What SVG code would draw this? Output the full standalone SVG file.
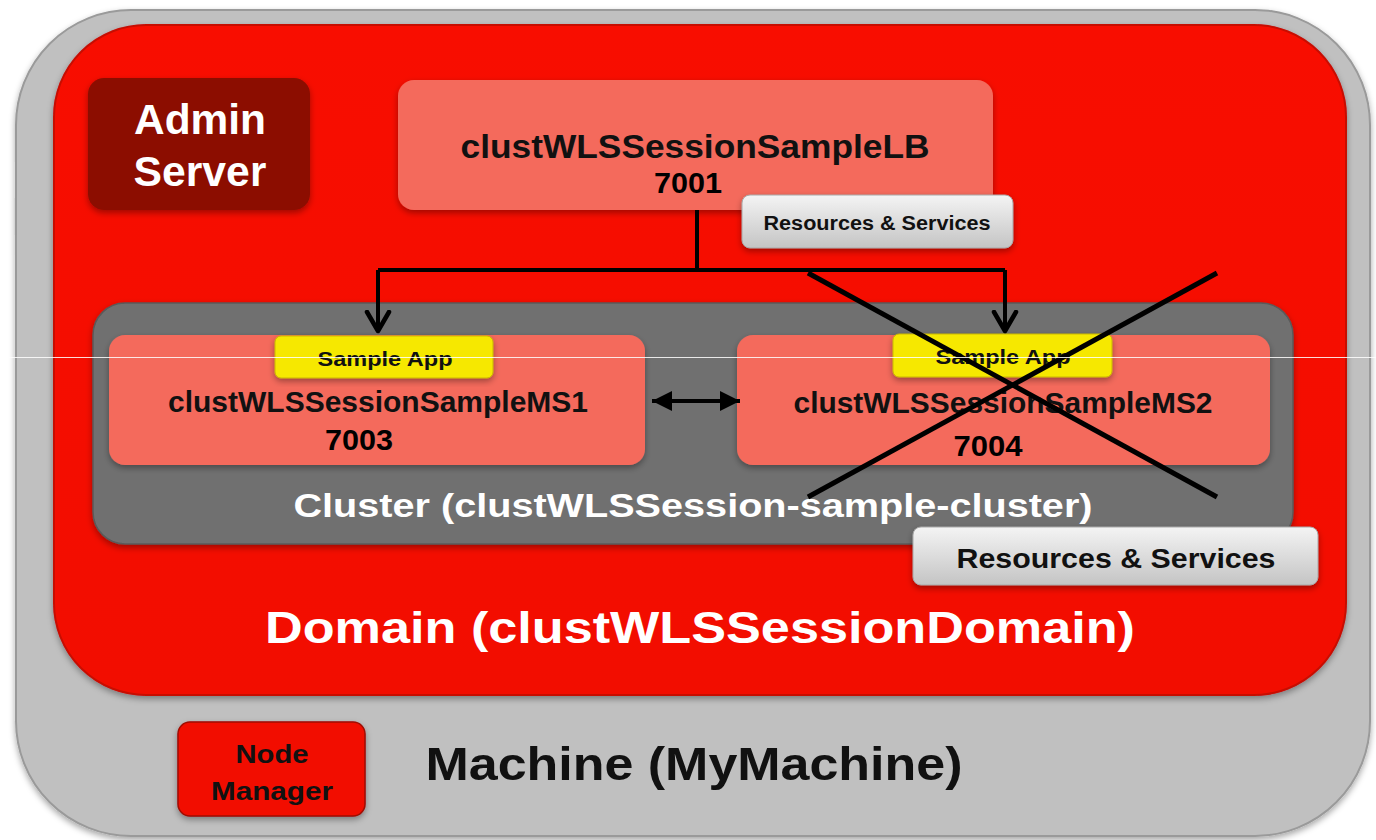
<svg xmlns="http://www.w3.org/2000/svg" width="1376" height="840" viewBox="0 0 1376 840">
<defs>
<style>
.b{font-family:"Liberation Sans",Arial,sans-serif;font-weight:bold}
.w{fill:#ffffff}
.k{fill:#111111}
.salmon{fill:#f46a5c}
.yellow{fill:#f6e800;stroke:#c9b800;stroke-width:1}
.conn{stroke:#000;stroke-width:4;fill:none}
</style>
<linearGradient id="gGray" x1="0" y1="0" x2="0" y2="1">
<stop offset="0" stop-color="#f4f4f4"/><stop offset="1" stop-color="#c4c4c4"/>
</linearGradient>
<linearGradient id="gRed" x1="0" y1="0" x2="0" y2="1">
<stop offset="0" stop-color="#f80c00"/><stop offset="1" stop-color="#f20a00"/>
</linearGradient>
<filter id="sh" x="-10%" y="-10%" width="120%" height="130%">
<feDropShadow dx="0" dy="3" stdDeviation="3" flood-color="#000" flood-opacity="0.35"/>
</filter>
<marker id="open" viewBox="0 0 24 28" refX="21" refY="14" markerWidth="24" markerHeight="28" markerUnits="userSpaceOnUse" orient="auto-start-reverse">
<path d="M2,3 L21,14 L2,25" fill="none" stroke="#000" stroke-width="4.5" stroke-linecap="round" stroke-linejoin="round"/>
</marker>
<marker id="tri" viewBox="0 0 20 22" refX="20" refY="11" markerWidth="20" markerHeight="22" markerUnits="userSpaceOnUse" orient="auto-start-reverse">
<path d="M0,1 L20,11 L0,21 Z" fill="#000"/>
</marker>
</defs>
<rect width="1376" height="840" fill="#ffffff"/>

<g id="machine">
<rect x="16" y="10" width="1354" height="826" rx="115" fill="#c0c0c0" stroke="#9a9a9a" stroke-width="2" filter="url(#sh)"/>
<text class="b k" x="694" y="780" font-size="46" text-anchor="middle" textLength="537" lengthAdjust="spacingAndGlyphs">Machine (MyMachine)</text>
</g>

<g id="domain">
<rect x="54" y="25" width="1292" height="670" rx="92" fill="url(#gRed)" stroke="#c80800" stroke-width="2" filter="url(#sh)"/>
<text class="b w" x="700" y="643" font-size="44" text-anchor="middle" textLength="870" lengthAdjust="spacingAndGlyphs">Domain (clustWLSSessionDomain)</text>
</g>

<g id="node-manager">
<rect x="178" y="722" width="187" height="94" rx="12" fill="#f20c00" stroke="#a00800" stroke-width="1.5" filter="url(#sh)"/>
<text class="b k" x="272" y="763" font-size="25" text-anchor="middle" textLength="73" lengthAdjust="spacingAndGlyphs">Node</text>
<text class="b k" x="272" y="800" font-size="25" text-anchor="middle" textLength="122" lengthAdjust="spacingAndGlyphs">Manager</text>
</g>

<g id="admin-server">
<rect x="88" y="78" width="222" height="132" rx="16" fill="#8c0c00" filter="url(#sh)"/>
<text class="b w" x="200" y="134" font-size="42" text-anchor="middle" textLength="132" lengthAdjust="spacingAndGlyphs">Admin</text>
<text class="b w" x="200" y="186" font-size="42" text-anchor="middle" textLength="133" lengthAdjust="spacingAndGlyphs">Server</text>
</g>

<g id="lb">
<rect x="398" y="80" width="595" height="130" rx="16" class="salmon" filter="url(#sh)"/>
<text class="b k" x="695" y="158" font-size="33" text-anchor="middle" textLength="469" lengthAdjust="spacingAndGlyphs">clustWLSSessionSampleLB</text>
<text class="b" fill="#000" x="688" y="193" font-size="29" text-anchor="middle" textLength="68" lengthAdjust="spacingAndGlyphs">7001</text>
</g>

<g id="lb-resources">
<rect x="742" y="195" width="271" height="53" rx="8" fill="url(#gGray)" stroke="#a8a8a8" stroke-width="1" filter="url(#sh)"/>
<text class="b k" x="877" y="230" font-size="20" text-anchor="middle" textLength="227" lengthAdjust="spacingAndGlyphs">Resources &amp; Services</text>
</g>

<g id="cluster">
<rect x="93" y="303" width="1200" height="241" rx="32" fill="#707070" stroke="#5a5a5a" stroke-width="1.5" filter="url(#sh)"/>
<text class="b w" x="693" y="517" font-size="34" text-anchor="middle" textLength="799" lengthAdjust="spacingAndGlyphs">Cluster (clustWLSSession-sample-cluster)</text>
</g>

<g id="ms1">
<rect x="109" y="335" width="536" height="130" rx="16" class="salmon" filter="url(#sh)"/>
<rect x="275" y="336" width="218" height="42" rx="6" class="yellow" filter="url(#sh)"/>
<text class="b k" x="385" y="366" font-size="20" text-anchor="middle" textLength="135" lengthAdjust="spacingAndGlyphs">Sample App</text>
<text class="b k" x="378" y="412" font-size="30" text-anchor="middle" textLength="420" lengthAdjust="spacingAndGlyphs">clustWLSSessionSampleMS1</text>
<text class="b" fill="#000" x="359" y="450" font-size="29" text-anchor="middle" textLength="68" lengthAdjust="spacingAndGlyphs">7003</text>
</g>

<g id="ms2">
<rect x="737" y="335" width="533" height="130" rx="16" class="salmon" filter="url(#sh)"/>
<rect x="893" y="334" width="219" height="43" rx="6" class="yellow" filter="url(#sh)"/>
<text class="b k" x="1003" y="364" font-size="20" text-anchor="middle" textLength="135" lengthAdjust="spacingAndGlyphs">Sample App</text>
<text class="b k" x="1003" y="413" font-size="30" text-anchor="middle" textLength="419" lengthAdjust="spacingAndGlyphs">clustWLSSessionSampleMS2</text>
<text class="b" fill="#000" x="988" y="456" font-size="29" text-anchor="middle" textLength="69" lengthAdjust="spacingAndGlyphs">7004</text>
</g>

<g id="cluster-resources">
<rect x="913" y="527" width="405" height="58" rx="8" fill="url(#gGray)" stroke="#a8a8a8" stroke-width="1" filter="url(#sh)"/>
<text class="b k" x="1116" y="568" font-size="28" text-anchor="middle" textLength="319" lengthAdjust="spacingAndGlyphs">Resources &amp; Services</text>
</g>

<g id="connectors">
<path class="conn" d="M697,210 V270"/>
<path class="conn" d="M378,270 H1005"/>
<path class="conn" d="M378,270 V331" marker-end="url(#open)"/>
<path class="conn" d="M1005,270 V331" marker-end="url(#open)"/>
<path class="conn" d="M652,401 H740" stroke-width="5" marker-start="url(#tri)" marker-end="url(#tri)"/>
</g>

<g id="cross">
<line x1="808" y1="273" x2="1217" y2="497" stroke="#000" stroke-width="5"/>
<line x1="1217" y1="273" x2="808" y2="497" stroke="#000" stroke-width="5"/>
</g>

<line x1="0" y1="357.5" x2="1376" y2="357.5" stroke="#ffffff" stroke-width="1" opacity="0.85"/>
</svg>
